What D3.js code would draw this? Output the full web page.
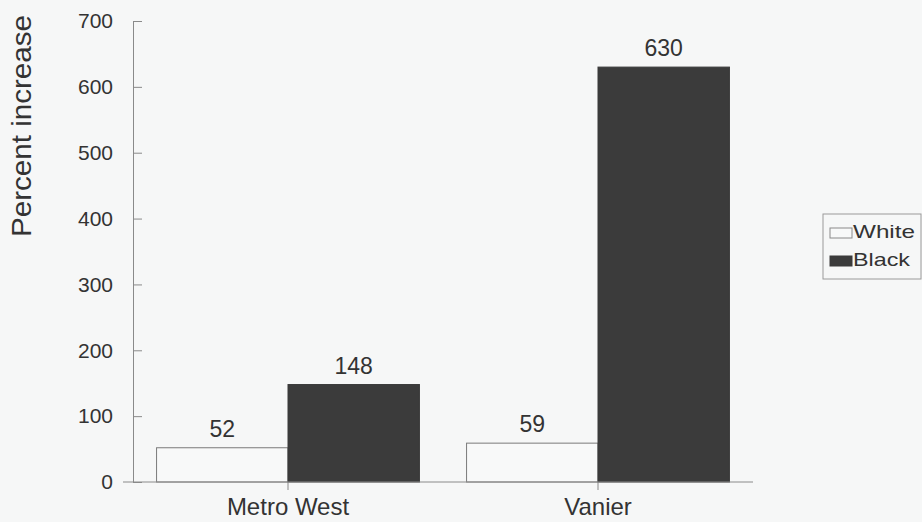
<!DOCTYPE html>
<html>
<head>
<meta charset="utf-8">
<script src="https://cdn.jsdelivr.net/npm/d3@7"></script>
<style>
  html, body { margin: 0; padding: 0; background: #f6f7f7; }
  svg { display: block; }
  text { font-family: "Liberation Sans", Arial, Helvetica, sans-serif; fill: #333333; }
</style>
</head>
<body>
<svg id="chart" width="922" height="522"></svg>
<script>
const categories = ["Metro West", "Vanier"];
const seriesNames = ["White", "Black"];
const whiteValues = [52, 59];
const blackValues = [148, 630];
const yTicks = [0, 100, 200, 300, 400, 500, 600, 700];
const yTitle = "Percent increase";

const seriesColors = { White: "#f8f9f9", Black: "#3b3b3b" };
const data = categories.map((c, i) => ({ cat: c, White: whiteValues[i], Black: blackValues[i] }));

const svg = d3.select("#chart");
const W = 922, H = 522;
svg.append("rect").attr("width", W).attr("height", H).attr("fill", "#f6f7f7");

const x0 = d3.scaleBand().domain(categories).range([133, 753]).paddingInner(0.152).paddingOuter(0.076);
const x1 = d3.scaleBand().domain(seriesNames).range([0, x0.bandwidth()]);
const y = d3.scaleLinear().domain([0, 700]).range([482, 21]);

const axisColor = "#8a8a8a";

// y axis
const yAxis = svg.append("g").attr("transform", `translate(${x0.range()[0]},0)`)
  .call(d3.axisLeft(y).tickValues(yTicks).tickSizeInner(10).tickSizeOuter(0).tickPadding(10));
yAxis.select(".domain").attr("stroke", axisColor);
yAxis.selectAll(".tick line").attr("stroke", axisColor).attr("x2", 9);
yAxis.selectAll(".tick text").attr("font-size", 21).attr("fill", "#333333")
  .attr("font-family", "Liberation Sans, Arial, sans-serif");

// y title
svg.append("text")
  .attr("transform", `translate(31,126) rotate(-90)`)
  .attr("text-anchor", "middle")
  .attr("font-size", 28)
  .attr("textLength", 222)
  .attr("lengthAdjust", "spacingAndGlyphs")
  .text(yTitle);

// bars
const groups = svg.append("g").selectAll("g").data(data).join("g")
  .attr("transform", d => `translate(${x0(d.cat)},0)`);

groups.selectAll("rect").data(d => seriesNames.map(s => ({ s, v: d[s] }))).join("rect")
  .attr("x", d => x1(d.s))
  .attr("y", d => y(d.v))
  .attr("width", x1.bandwidth())
  .attr("height", d => y(0) - y(d.v))
  .attr("fill", d => seriesColors[d.s])
  .attr("stroke", d => d.s === "White" ? "#7a7a7a" : "#3b3b3b")
  .attr("stroke-width", 1);

groups.selectAll("text.val").data(d => seriesNames.map(s => ({ s, v: d[s] }))).join("text")
  .attr("class", "val")
  .attr("x", d => x1(d.s) + x1.bandwidth() / 2)
  .attr("y", d => y(d.v) - 11)
  .attr("text-anchor", "middle")
  .attr("font-size", 23)
  .text(d => d.v);

// x axis
const xAxis = svg.append("g").attr("transform", `translate(0,${y(0)})`)
  .call(d3.axisBottom(x0).tickSizeInner(8).tickSizeOuter(0).tickPadding(8));
xAxis.select(".domain").remove();
xAxis.append("line")
  .attr("x1", x0.range()[0] - 10).attr("x2", x0.range()[1])
  .attr("y1", 0).attr("y2", 0)
  .attr("stroke", axisColor);
xAxis.selectAll(".tick line").attr("stroke", axisColor);
xAxis.selectAll(".tick text").attr("font-size", 24).attr("fill", "#333333")
  .attr("font-family", "Liberation Sans, Arial, sans-serif");

// legend
const legend = svg.append("g");
legend.append("rect")
  .attr("x", 823).attr("y", 214).attr("width", 98).attr("height", 65)
  .attr("fill", "none").attr("stroke", "#9a9a9a");
const items = legend.selectAll("g.item").data(seriesNames).join("g")
  .attr("class", "item")
  .attr("transform", (d, i) => `translate(830,${238 + i * 28})`);
items.append("rect")
  .attr("x", 0).attr("y", -10).attr("width", 22).attr("height", 10)
  .attr("fill", d => seriesColors[d])
  .attr("stroke", d => d === "White" ? "#8a8a8a" : "#3b3b3b");
items.append("text")
  .attr("x", 23).attr("y", 0)
  .attr("font-size", 19)
  .attr("textLength", d => d === "White" ? 62 : 57)
  .attr("lengthAdjust", "spacingAndGlyphs")
  .text(d => d);
</script>
</body>
</html>
